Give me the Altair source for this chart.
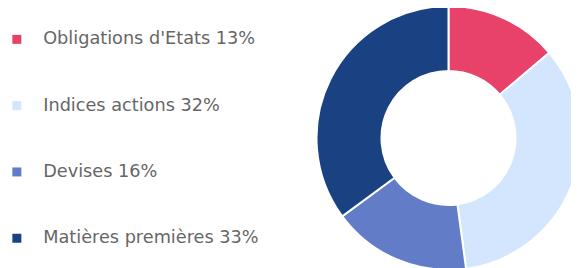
import altair as alt
import pandas as pd

categories = ["Obligations d'Etats", "Indices actions", "Devises", "Matières premières"]
values = [13, 32, 16, 33]
colors = ["#E8426B", "#D3E6FD", "#637CC8", "#1A4283"]

labels = [f"{c} {v}%" for c, v in zip(categories, values)]
df = pd.DataFrame({"label": labels, "value": values, "order": list(range(len(values)))})

chart = alt.Chart(df).mark_arc(innerRadius=67, outerRadius=132, stroke="white", strokeWidth=2).encode(
    theta=alt.Theta("value:Q", stack=True),
    order=alt.Order("order:Q"),
    x=alt.value(440.5),
    y=alt.value(130),
    color=alt.Color(
        "label:N",
        sort=labels,
        scale=alt.Scale(domain=labels, range=colors),
        legend=alt.Legend(
            title=None,
            orient="none",
            legendX=0,
            legendY=22.5,
            symbolType="square",
            symbolSize=81,
            symbolStrokeWidth=0,
            labelFont="DejaVu Sans",
            labelFontSize=17.7,
            labelColor="#666666",
            labelOffset=17.5,
            rowPadding=47.3,
            labelLimit=400,
        ),
    ),
).properties(
    width=563, height=262, padding=0, autosize=alt.AutoSizeParams(type="none")
).configure_view(stroke=None)

chart.save("out.html", embed_options={"renderer": "svg", "actions": False})
